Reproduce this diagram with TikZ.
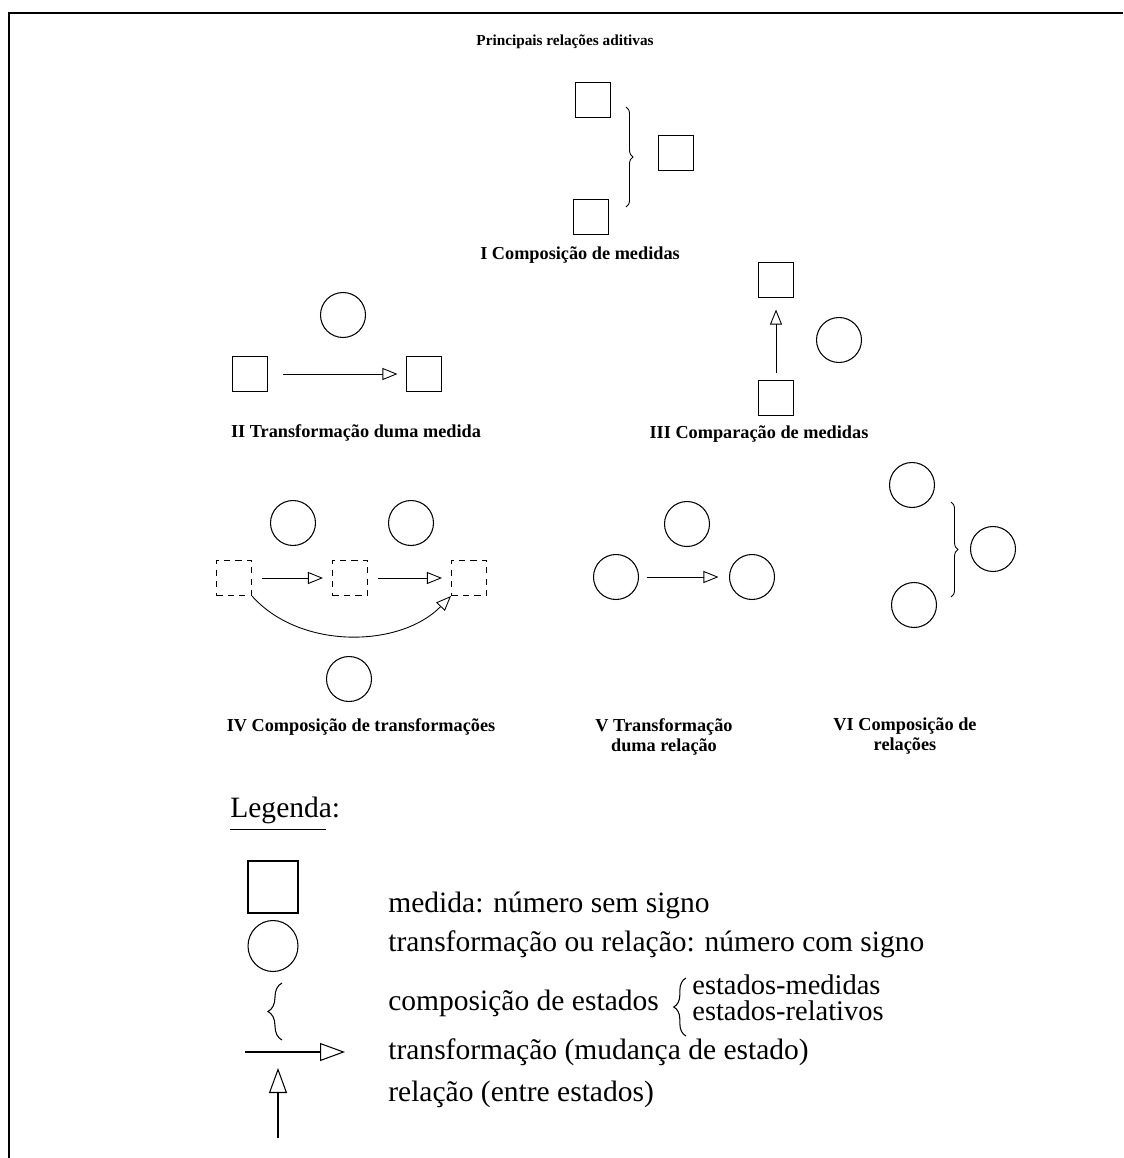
\documentclass[tikz,border=0pt]{standalone}
\usepackage{fontspec}
\setmainfont{Liberation Serif}
\usetikzlibrary{arrows.meta,decorations.pathreplacing,shapes.geometric}
\begin{document}
\begin{tikzpicture}[x=0.02cm,y=-0.02cm,
    meas/.style={draw,rectangle,minimum size=0.7cm,inner sep=0pt,line width=0.6pt},
    dmeas/.style={meas,dash pattern=on 3.5pt off 3pt},
    trans/.style={draw,circle,minimum size=0.9cm,inner sep=0pt,line width=0.6pt},
    tarrow/.style={-{Triangle[open,length=0.3cm,width=0.24cm]},line width=0.5pt},
    larrow/.style={-{Triangle[open,length=0.5cm,width=0.36cm]},line width=0.6pt},
    cbrace/.style={decorate,decoration={brace,amplitude=4pt},line width=0.5pt},
    lbl/.style={font=\fontsize{10.4}{11}\selectfont\bfseries,align=center},
    leg/.style={font=\fontsize{16.8}{13.2}\selectfont,anchor=west,inner sep=0pt}]
  \useasboundingbox (0,0) rectangle (1123,1158);
  % frame
  \draw[line width=1.1pt] (8,13) -- (1123,13);
  \draw[line width=1.1pt] (9,13) -- (9,1158);
  \node[font=\fontsize{8.7}{10}\selectfont\bfseries] (title) at (565,42) {Principais relações aditivas};

  % I
  \node[meas] (ia) at (593,100) {};
  \node[meas] (ib) at (676,153) {};
  \node[meas] (ic) at (591,217) {};
  \draw[cbrace] (626,107) -- (626,207);
  \node[lbl] (lab1) at (580,255) {I Composição de medidas};

  % II
  \node[trans] (iit) at (343,315) {};
  \node[meas] (iia) at (250,374) {};
  \node[meas] (iib) at (424,374) {};
  \draw[tarrow,shorten <=0.3cm,shorten >=0.17cm] (iia) -- (iib);
  \node[lbl] (lab2) at (356,433) {II Transformação duma medida};

  % III
  \node[meas] (iiia) at (776,280) {};
  \node[meas] (iiib) at (776,398) {};
  \node[trans] (iiit) at (839,340) {};
  \draw[tarrow,shorten <=0.13cm,shorten >=0.23cm] (iiib) -- (iiia);
  \node[lbl] (lab3) at (759,434) {III Comparação de medidas};

  % IV
  \node[trans] (iva) at (293,523) {};
  \node[trans] (ivb) at (411,523) {};
  \node[dmeas] (ivd1) at (234,578) {};
  \node[dmeas] (ivd2) at (350,578) {};
  \node[dmeas] (ivd3) at (469,578) {};
  \node[trans] (ivc) at (349,679) {};
  \draw[tarrow,shorten <=0.2cm,shorten >=0.18cm] (ivd1) -- (ivd2);
  \draw[tarrow,shorten <=0.2cm,shorten >=0.18cm] (ivd2) -- (ivd3);
  \draw[tarrow] (ivd1.south east) .. controls (300,650) and (400,648) .. (ivd3.south west);
  \node[lbl] (lab4) at (361,727) {IV Composição de transformações};

  % V
  \node[trans] (va) at (687,524) {};
  \node[trans] (vb) at (616,577) {};
  \node[trans] (vc) at (752,577) {};
  \draw[tarrow,shorten <=0.15cm,shorten >=0.21cm] (vb) -- (vc);
  \node[lbl] (lab5) at (664,737) {V Transformação\\duma relação};

  % VI
  \node[trans] (via) at (912,485) {};
  \node[trans] (vib) at (993,549) {};
  \node[trans] (vic) at (914,605) {};
  \draw[cbrace] (951,502) -- (951,597);
  \node[lbl] (lab6) at (905,736) {VI Composição de\\relações};

  % legend
  \node[leg] (legt) at (230,810) {Legenda:};
  \draw[line width=0.6pt] (legt.south west) ++(0,6) -- ++(96,0);
  \node[draw,rectangle,minimum width=1cm,minimum height=1.04cm,line width=0.6pt] (lsq) at (273,887) {};
  \node[leg] (l1) at (388,905) {medida: número sem signo};
  \node[draw,ellipse,minimum width=1cm,minimum height=1.02cm,inner sep=0pt,line width=0.6pt] (lci) at (273,946) {};
  \node[leg] (l2) at (388,944) {transformação ou relação: número com signo};
  \draw[decorate,decoration={brace,amplitude=8pt},line width=0.6pt] (282,1040) -- (282,983);
  \node[leg] (l3) at (388,1003) {composição de estados};
  \draw[decorate,decoration={brace,amplitude=7pt},line width=0.6pt] (686,1036) -- (686,978);
  \node[leg,font=\fontsize{16.2}{14.6}\selectfont,align=left] (l3a) at (692,998) {estados-medidas\\estados-relativos};
  \coordinate (la1) at (245,1052);
  \coordinate (la2) at (345,1052);
  \draw[larrow] (la1) -- (la2);
  \node[leg] (l4) at (388,1052) {transformação (mudança de estado)};
  \coordinate (lb1) at (278,1138);
  \coordinate (lb2) at (278,1068);
  \draw[larrow] (lb1) -- (lb2);
  \node[leg] (l5) at (388,1094) {relação (entre estados)};
\end{tikzpicture}
\end{document}
